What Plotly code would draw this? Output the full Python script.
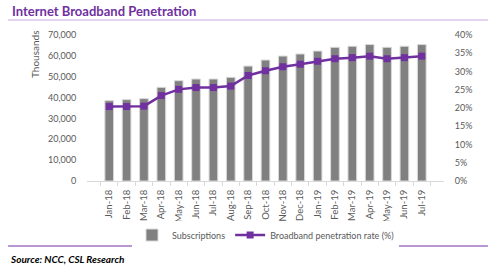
import plotly.graph_objects as go

months = ["Jan-18","Feb-18","Mar-18","Apr-18","May-18","Jun-18","Jul-18","Aug-18","Sep-18","Oct-18",
          "Nov-18","Dec-18","Jan-19","Feb-19","Mar-19","Apr-19","May-19","Jun-19","Jul-19"]
subscriptions = [38500, 39000, 39500, 44900, 48100, 48900, 48900, 49700, 55100, 58000,
                 59900, 60900, 62300, 64100, 64600, 65400, 64100, 64600, 65400]
penetration = [20.4, 20.4, 20.5, 23.4, 25.1, 25.6, 25.6, 26.0, 28.9, 30.2,
               31.3, 32.0, 32.8, 33.5, 33.8, 34.2, 33.5, 33.8, 34.2]

left_ticks = [0, 10000, 20000, 30000, 40000, 50000, 60000, 70000]
right_ticks = [0, 5, 10, 15, 20, 25, 30, 35, 40]
right_labels = [f"{v}%" for v in right_ticks]

FONT = "Lato"
GRAY = "#595959"
PURPLE = "#7030a0"

fig = go.Figure()
fig.add_trace(go.Bar(x=months, y=subscriptions, name="Subscriptions",
                     marker=dict(color="#808080", line=dict(color="#d9d9d9", width=1))))
fig.add_trace(go.Scatter(x=months, y=penetration, name="Broadband penetration rate (%)",
                         yaxis="y2", mode="lines+markers",
                         line=dict(color=PURPLE, width=2.5),
                         marker=dict(symbol="square", size=7, color=PURPLE)))

fig.update_layout(
    width=498, height=272,
    margin=dict(l=87, r=54, t=35, b=91),
    paper_bgcolor="white", plot_bgcolor="white",
    font=dict(family=FONT, size=9, color=GRAY),
    bargap=0.5,
    showlegend=True,
    legend=dict(orientation="h", x=0.5, xanchor="center", y=-0.37, yanchor="middle",
                font=dict(size=9, color=GRAY), itemwidth=30, tracegroupgap=0),
    xaxis=dict(tickangle=-90, tickfont=dict(size=9.5, color=GRAY), showline=True,
               linecolor="#d9d9d9", linewidth=1, ticks="outside", tickson="boundaries",
               ticklen=4, tickcolor="#d9d9d9", showgrid=False, ticklabelstandoff=4),
    yaxis=dict(range=[0, 70000], tickvals=left_ticks, tickformat=",", showgrid=False,
               zeroline=False, tickfont=dict(size=9, color=GRAY), ticklen=8, ticks="outside",
               tickcolor="white"),
    yaxis2=dict(range=[0, 40], tickvals=right_ticks, ticktext=right_labels, overlaying="y",
                side="right", showgrid=False, zeroline=False,
                tickfont=dict(size=9, color=GRAY), ticks="outside", ticklen=8, tickcolor="white"),
    shapes=[
        dict(type="line", xref="paper", yref="paper", x0=-0.221, x1=1.123,
             y0=(272-20-91)/146, y1=(272-20-91)/146, line=dict(color="#e4d4f0", width=2)),
        dict(type="line", xref="paper", yref="paper", x0=-0.221, x1=1.123,
             y0=(272-246-91)/146, y1=(272-246-91)/146, line=dict(color=PURPLE, width=1)),
    ],
    annotations=[
        dict(text="<b>Internet Broadband Penetration</b>", xref="paper", yref="paper",
             x=-0.216, y=(272-11-91)/146, xanchor="left", yanchor="middle", showarrow=False,
             font=dict(family=FONT, size=13, color=PURPLE)),
        dict(text="Thousands", xref="paper", yref="paper", textangle=-90,
             x=(35-87)/357, y=(272-55-91)/146, xanchor="center", yanchor="middle",
             showarrow=False, font=dict(family=FONT, size=10, color=GRAY)),
        dict(text="<b><i>Source: NCC, CSL Research</i></b>", xref="paper", yref="paper",
             x=-0.221, y=(272-259-91)/146, xanchor="left", yanchor="middle", showarrow=False,
             font=dict(family=FONT, size=10, color="black")),
    ],
)

fig.write_html("out.html")
